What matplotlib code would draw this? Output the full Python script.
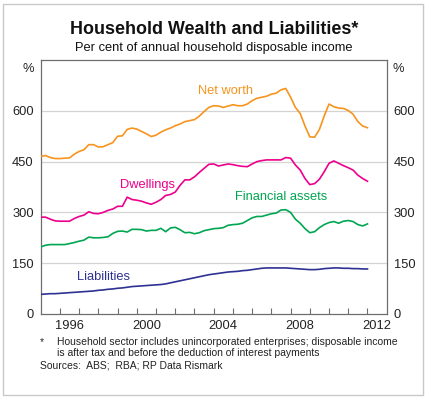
import numpy as np
import matplotlib
matplotlib.use("Agg")
import matplotlib.pyplot as plt
from matplotlib.patches import Rectangle

plt.rcParams['font.family'] = ['Liberation Sans', 'DejaVu Sans']

# Quarterly dates, 1995.00 to 2012.00
dates = [1995 + 0.25 * i for i in range(69)]

net_worth = [465, 468, 462, 459, 459, 460, 461, 472, 480, 485, 500, 500,
             493, 494, 500, 506, 525, 526, 545, 549, 546, 539, 532, 524,
             528, 537, 544, 549, 556, 561, 568, 571, 574, 584, 598, 610,
             615, 614, 610, 614, 618, 615, 615, 620, 630, 637, 640, 643,
             649, 652, 662, 666, 640, 610, 592, 555, 523, 522, 545, 585,
             620, 612, 608, 607, 601, 590, 568, 555, 550]

dwellings = [286, 286, 280, 275, 274, 274, 274, 282, 288, 292, 302, 297,
             296, 300, 306, 310, 318, 318, 345, 338, 336, 333, 328, 324,
             330, 338, 350, 353, 360, 380, 396, 396, 405, 418, 430, 442,
             443, 437, 440, 443, 441, 438, 436, 435, 443, 450, 453, 455,
             455, 455, 455, 462, 460, 440, 425, 400, 382, 385, 398, 420,
             445, 452, 445, 438, 432, 425, 410, 400, 392]

financial = [198, 203, 205, 205, 205, 205, 208, 211, 215, 218, 227, 225,
             225, 226, 228, 238, 244, 245, 242, 250, 250, 249, 245, 247,
             247, 253, 243, 254, 256, 249, 240, 241, 237, 240, 246, 249,
             252, 253, 255, 262, 264, 265, 268, 276, 284, 288, 288, 292,
             296, 298, 307, 308, 300, 280, 268, 252, 240, 243, 255, 264,
             270, 273, 268, 274, 276, 273, 264, 260, 266]

liabilities = [58, 59, 60, 60, 61, 62, 63, 64, 65, 66, 67, 68,
               70, 71, 73, 74, 76, 77, 79, 81, 82, 83, 84, 85,
               86, 87, 89, 92, 95, 98, 101, 104, 107, 110, 113, 116,
               118, 120, 122, 124, 125, 126, 128, 129, 131, 133, 135, 136,
               136, 136, 136, 136, 135, 134, 133, 132, 131, 131, 132, 134,
               135, 136, 136, 135, 135, 134, 134, 133, 133]

y_ticks = [0, 150, 300, 450, 600]
x_label_years = [1996, 2000, 2004, 2008, 2012]
x_tick_years = list(range(1996, 2013))

c_net = '#F7941D'
c_dwl = '#EC008C'
c_fin = '#00A651'
c_lia = '#2E3192'

W, H = 427, 399
fig = plt.figure(figsize=(W / 100, H / 100), dpi=100)
fig.patch.set_facecolor('white')

# outer border
fig.patches.append(Rectangle((3 / W, 4 / H), 420 / W, 391 / H, transform=fig.transFigure,
                             fill=False, edgecolor='#c8c8c8', linewidth=1.0))

ax = fig.add_axes([40.7 / W, 85 / H, 346 / W, 254 / H])
ax.set_xlim(1995, 2013)
ax.set_ylim(0, 750)

for yv in y_ticks[1:]:
    ax.axhline(yv, color='#d4d4d4', linewidth=0.9, zorder=1)

lw = 1.2
ax.plot(dates, net_worth, color=c_net, lw=lw, zorder=3)
ax.plot(dates, dwellings, color=c_dwl, lw=lw, zorder=3)
ax.plot(dates, financial, color=c_fin, lw=lw, zorder=3)
ax.plot(dates, liabilities, color=c_lia, lw=lw, zorder=3)

for s in ax.spines.values():
    s.set_color('#6e6e6e')
    s.set_linewidth(0.9)

ax.set_yticks(y_ticks)
ax.set_yticklabels([str(v) for v in y_ticks])
ax.tick_params(axis='y', length=0, labelsize=9.3, colors='#222222', pad=5,
               labelright=True, right=False)

ax.set_xticks(x_tick_years)
ax.set_xticklabels([])
ax.tick_params(axis='x', direction='in', length=4, width=0.8, color='#6e6e6e')
for yr in x_label_years:
    ax.text(yr + 0.5, -18, str(yr), ha='center', va='top', fontsize=9.3,
            color='#222222', transform=ax.transData, clip_on=False)

# percent signs
ax.text(-0.037, 750 - 10, '%', transform=ax.get_yaxis_transform(), ha='center', va='top',
        fontsize=9.3, color='#222222')
ax.text(1.033, 750 - 10, '%', transform=ax.get_yaxis_transform(), ha='center', va='top',
        fontsize=9.3, color='#222222')

# series labels
ax.text(2003.2, 659, 'Net worth', color=c_net, fontsize=9.3, ha='left', va='center')
ax.text(2000.55, 382, 'Dwellings', color=c_dwl, fontsize=9.3, ha='center', va='center')
ax.text(2007.5, 345, 'Financial assets', color=c_fin, fontsize=9.3, ha='center', va='center')
ax.text(1998.25, 110, 'Liabilities', color=c_lia, fontsize=9.3, ha='center', va='center')

# titles
fig.text(214 / W, 1 - 30 / H, 'Household Wealth and Liabilities*', ha='center', va='center',
         fontsize=12.9, fontweight='bold', color='#111111')
fig.text(214 / W, 1 - 48 / H, 'Per cent of annual household disposable income', ha='center',
         va='center', fontsize=9.3, color='#111111')

# footnotes
fs = 7.5
fig.text(40 / W, 1 - 342 / H, '*', ha='left', va='center', fontsize=fs, color='#222222')
fig.text(57 / W, 1 - 342 / H, 'Household sector includes unincorporated enterprises; disposable income',
         ha='left', va='center', fontsize=fs, color='#222222')
fig.text(57 / W, 1 - 353.5 / H, 'is after tax and before the deduction of interest payments',
         ha='left', va='center', fontsize=fs, color='#222222')
fig.text(40 / W, 1 - 365 / H, 'Sources:  ABS;  RBA; RP Data Rismark',
         ha='left', va='center', fontsize=fs, color='#222222')

fig.savefig('out.png', dpi=100)
